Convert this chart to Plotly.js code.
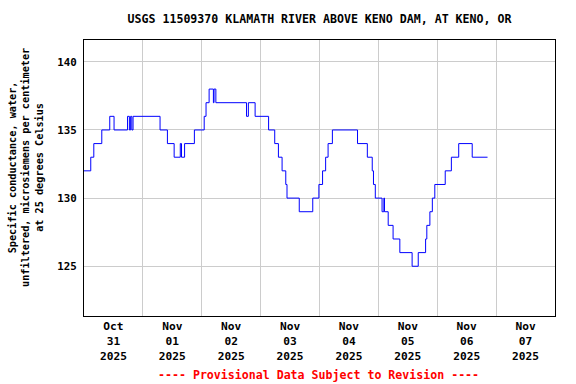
<!DOCTYPE html>
<html>
<head>
<meta charset="utf-8">
<script src="https://cdn.plot.ly/plotly-3.0.1.min.js"></script>
<style>html,body{margin:0;padding:0;background:#fff;}#chart{width:576px;height:384px;}</style>
</head>
<body>
<div id="chart"></div>
<script>
// Step-change readings (time of change, value in µS/cm at 25 °C)
const times = [
  '2025-10-31 00:00','2025-10-31 02:45','2025-10-31 04:00','2025-10-31 07:15','2025-10-31 10:30',
  '2025-10-31 12:15','2025-10-31 17:45','2025-10-31 18:30','2025-10-31 19:00','2025-10-31 19:30',
  '2025-10-31 20:00','2025-11-01 07:00','2025-11-01 10:00','2025-11-01 12:45','2025-11-01 15:15',
  '2025-11-01 15:45','2025-11-01 17:00','2025-11-01 21:00','2025-11-02 01:00','2025-11-02 01:45',
  '2025-11-02 03:00','2025-11-02 04:45','2025-11-02 05:00','2025-11-02 05:45','2025-11-02 18:15',
  '2025-11-02 19:00','2025-11-02 21:45','2025-11-03 03:15','2025-11-03 05:45','2025-11-03 07:15',
  '2025-11-03 08:45','2025-11-03 10:15','2025-11-03 10:45','2025-11-03 15:45','2025-11-03 21:15',
  '2025-11-03 23:45','2025-11-04 01:15','2025-11-04 02:30','2025-11-04 03:30','2025-11-04 05:15',
  '2025-11-04 15:30','2025-11-04 19:30','2025-11-04 21:30','2025-11-04 22:00','2025-11-04 22:45',
  '2025-11-05 01:30','2025-11-05 02:15','2025-11-05 02:30','2025-11-05 04:00','2025-11-05 06:00',
  '2025-11-05 08:45','2025-11-05 13:45','2025-11-05 16:15','2025-11-05 19:15','2025-11-05 19:45',
  '2025-11-05 21:00','2025-11-05 22:00','2025-11-05 23:00','2025-11-06 03:15','2025-11-06 05:45',
  '2025-11-06 08:45','2025-11-06 14:15','2025-11-06 20:30'
];
const conductance = [
  132,133,134,135,136,
  135,136,135,136,135,
  136,135,134,133,134,
  133,134,135,136,137,
  138,137,138,137,136,
  137,136,135,134,133,
  132,131,130,129,130,
  131,132,133,134,135,
  134,133,132,131,130,
  129,130,129,128,127,
  126,125,126,127,128,
  129,130,131,132,133,
  134,133,133
];
const xTickVals = ['2025-10-31 12:00','2025-11-01 12:00','2025-11-02 12:00','2025-11-03 12:00',
                   '2025-11-04 12:00','2025-11-05 12:00','2025-11-06 12:00','2025-11-07 12:00'];
const xTickText = ['Oct<br>31<br>2025','Nov<br>01<br>2025','Nov<br>02<br>2025','Nov<br>03<br>2025',
                   'Nov<br>04<br>2025','Nov<br>05<br>2025','Nov<br>06<br>2025','Nov<br>07<br>2025'];
const yTickVals = [125, 130, 135, 140];

const titleText = 'USGS 11509370 KLAMATH RIVER ABOVE KENO DAM, AT KENO, OR';
const yTitleText = 'Specific conductance, water,<br>unfiltered, microsiemens per centimeter<br>at 25 degrees Celsius';
const noteText = '---- Provisional Data Subject to Revision ----';

const FONT = '"DejaVu Sans Mono", "Liberation Mono", monospace';

const trace = {
  x: times, y: conductance, type: 'scatter', mode: 'lines',
  line: {color: '#0000ff', width: 1, shape: 'hv'},
  hoverinfo: 'skip'
};

const layout = {
  width: 576, height: 384,
  margin: {l: 84, r: 21, t: 40, b: 68},
  paper_bgcolor: '#ffffff', plot_bgcolor: '#ffffff',
  showlegend: false,
  title: {text: titleText, font: {family: FONT, size: 11.6, color: '#000', weight: 'bold'},
          x: 0.5547, xanchor: 'center', y: 1 - 19/384, yanchor: 'middle'},
  xaxis: {
    type: 'date', range: ['2025-10-31 00:00', '2025-11-08 00:00'],
    tickmode: 'array', tickvals: xTickVals, ticktext: xTickText,
    showgrid: false, ticks: '',
    tickfont: {family: FONT, size: 11.2, color: '#000', weight: 'bold'},
    minor: {dtick: 86400000, tick0: '2025-10-31', showgrid: true, gridcolor: '#cccccc', gridwidth: 1, ticks: ''},
    showline: true, mirror: true, linecolor: '#000', linewidth: 1,
    zeroline: false, fixedrange: true, automargin: false
  },
  yaxis: {
    range: [121.35, 141.6],
    tickmode: 'array', tickvals: yTickVals, ticktext: yTickVals.map(String),
    showgrid: true, gridcolor: '#cccccc', gridwidth: 1,
    ticks: '', ticklabelstandoff: 4,
    tickfont: {family: FONT, size: 10.8, color: '#000', weight: 'bold'},
    showline: true, mirror: true, linecolor: '#000', linewidth: 1,
    zeroline: false, fixedrange: true, automargin: false
  },
  annotations: [
    {text: yTitleText, xref: 'paper', yref: 'paper', x: (26 - 84) / 471, y: (316 - 168) / 276,
     xanchor: 'center', yanchor: 'middle', textangle: -90, showarrow: false,
     font: {family: FONT, size: 10.2, color: '#000', weight: 'bold'}},
    {text: noteText, xref: 'paper', yref: 'paper', x: (318 - 84) / 471, y: (316 - 375) / 276,
     xanchor: 'center', yanchor: 'middle', showarrow: false,
     font: {family: FONT, size: 11.6, color: '#ff0000', weight: 'bold'}}
  ]
};

Plotly.newPlot('chart', [trace], layout, {staticPlot: true, displayModeBar: false});
</script>
</body>
</html>
